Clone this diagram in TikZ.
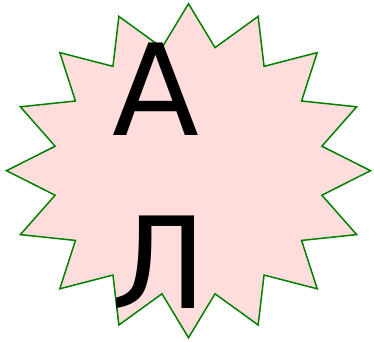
\documentclass[tikz,border=0pt]{standalone}
\usepackage{fontspec}
\newfontfamily\burstfont{DejaVu Sans}
\definecolor{burstfill}{RGB}{255,221,221}
\definecolor{burstline}{RGB}{0,128,0}
\tikzset{
  burst/.style={draw=burstline,fill=burstfill,line width=1.5pt,line join=miter},
  bigletter/.style={inner sep=0pt,anchor=base west,font=\burstfont\fontsize{127}{127}\selectfont}
}
\begin{document}
\begin{tikzpicture}[x=1pt,y=-1pt]
    \useasboundingbox (0,0) rectangle (374,341);
    % sixteen-point burst
    \draw[burst,shift={(188.5,170.7)}] (90:182 and 167)
        \foreach \k in {0,...,15} {
            -- ({90-\k*22.5-11.25}:136 and 125.5) -- ({90-(\k+1)*22.5}:182 and 167)
        } -- cycle;
    \node[bigletter] (upper) at (112,135) {А};
    \node[bigletter] (lower) at (111,308) {Л};
\end{tikzpicture}
\end{document}
